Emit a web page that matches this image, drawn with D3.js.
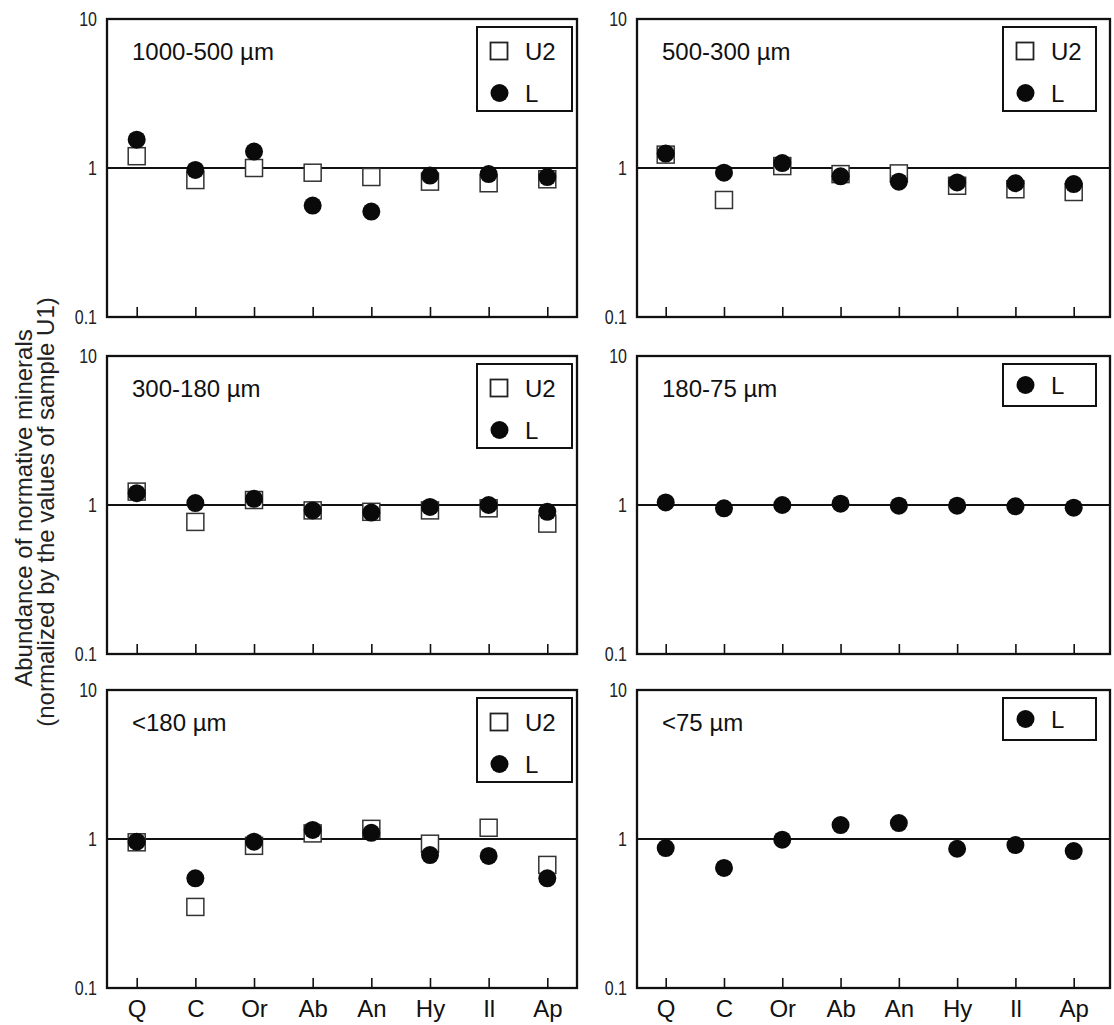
<!DOCTYPE html>
<html>
<head>
<meta charset="utf-8">
<script src="https://cdn.jsdelivr.net/npm/d3@7"></script>
<style>
  html, body { margin: 0; padding: 0; background: #fff; }
  svg { display: block; font-family: "Liberation Sans", Arial, Helvetica, sans-serif; }
</style>
</head>
<body>
<svg id="chart" width="1114" height="1025"></svg>
<script>
// Normative minerals on the x axis
const minerals = ["Q", "C", "Or", "Ab", "An", "Hy", "Il", "Ap"];

// Grain-size fractions, one panel each
const sizeFractions = ["1000-500 µm", "500-300 µm", "300-180 µm", "180-75 µm", "<180 µm", "<75 µm"];

// Abundances normalized by sample U1 (U2 = open squares, L = filled circles)
const u2_1000_500 = [1.20, 0.83, 1.00, 0.93, 0.87, 0.81, 0.79, 0.84];
const l_1000_500  = [1.55, 0.97, 1.29, 0.56, 0.51, 0.89, 0.91, 0.87];
const u2_500_300  = [1.23, 0.61, 1.03, 0.91, 0.92, 0.76, 0.72, 0.69];
const l_500_300   = [1.25, 0.93, 1.08, 0.88, 0.81, 0.80, 0.79, 0.78];
const u2_300_180  = [1.23, 0.77, 1.08, 0.92, 0.90, 0.92, 0.95, 0.75];
const l_300_180   = [1.20, 1.03, 1.10, 0.92, 0.89, 0.97, 1.00, 0.90];
const l_180_75    = [1.04, 0.95, 1.00, 1.02, 0.99, 0.99, 0.98, 0.96];
const u2_lt180    = [0.95, 0.35, 0.90, 1.09, 1.17, 0.93, 1.19, 0.67];
const l_lt180     = [0.96, 0.545, 0.96, 1.15, 1.10, 0.78, 0.77, 0.545];
const l_lt75      = [0.87, 0.64, 0.99, 1.24, 1.28, 0.86, 0.91, 0.83];

// Log axis ticks
const yTickValues = [0.1, 1, 10];
const yTickLabels = ["0.1", "1", "10"];

const seriesU2 = [u2_1000_500, u2_500_300, u2_300_180, null, u2_lt180, null];
const seriesL  = [l_1000_500, l_500_300, l_300_180, l_180_75, l_lt180, l_lt75];

// Layout
const colX = [107, 637];
const colW = [470, 473];
const colTickRange = [[29.7, 440.3], [28.7, 436.7]];
const rowY = [19, 356, 690];
const panelH = 298;

const svg = d3.select("#chart");
const ink = "#111";

const y = d3.scaleLog().domain([0.1, 10]).range([panelH, 0]);

sizeFractions.forEach((title, i) => {
  const col = i % 2, row = Math.floor(i / 2);
  const w = colW[col];
  const g = svg.append("g").attr("transform", `translate(${colX[col]},${rowY[row]})`);
  const x = d3.scalePoint().domain(minerals).range(colTickRange[col]);

  // reference line at 1
  g.append("line")
    .attr("x1", 0).attr("x2", w)
    .attr("y1", y(1)).attr("y2", y(1))
    .attr("stroke", ink).attr("stroke-width", 2);

  // bottom axis with inward ticks
  const xAxis = d3.axisBottom(x).tickSizeInner(-10).tickSizeOuter(0).tickPadding(12);
  if (row < 2) xAxis.tickFormat(() => "");
  const xa = g.append("g").attr("transform", `translate(0,${panelH})`).call(xAxis);
  xa.select(".domain").remove();
  xa.selectAll(".tick line").attr("stroke", ink).attr("stroke-width", 1.6);
  xa.selectAll(".tick text").attr("fill", ink).attr("font-size", 24)
    .attr("font-family", "Liberation Sans, Arial, sans-serif");

  // left axis labels only
  const yAxis = d3.axisLeft(y).tickValues(yTickValues)
    .tickFormat((d, k) => yTickLabels[k]).tickSize(0).tickPadding(12.5);
  const ya = g.append("g").call(yAxis);
  ya.select(".domain").remove();
  ya.selectAll(".tick text").attr("fill", "#222").attr("font-size", 20)
    .attr("font-family", "Liberation Sans, Arial, sans-serif")
    .attr("transform", "scale(0.8,1)");

  // U2 squares
  const s = 17;
  if (seriesU2[i]) {
    g.append("g").selectAll("rect")
      .data(seriesU2[i])
      .join("rect")
      .attr("x", (d, k) => x(minerals[k]) - s / 2)
      .attr("y", d => y(d) - s / 2)
      .attr("width", s).attr("height", s)
      .attr("fill", "#fff").attr("stroke", "#333").attr("stroke-width", 1.5);
  }

  // L circles
  g.append("g").selectAll("circle")
    .data(seriesL[i])
    .join("circle")
    .attr("cx", (d, k) => x(minerals[k]))
    .attr("cy", d => y(d))
    .attr("r", 9)
    .attr("fill", "#0a0a0a");

  // frame
  g.append("rect")
    .attr("x", 0).attr("y", 0).attr("width", w).attr("height", panelH)
    .attr("fill", "none").attr("stroke", ink).attr("stroke-width", 2.3);

  // panel title
  g.append("text")
    .attr("x", 25).attr("y", 41)
    .attr("font-size", 24).attr("fill", ink)
    .text(title);

  // legend
  const hasU2 = !!seriesU2[i];
  const lx = col === 0 ? 370 : 366;
  const ly = 8;
  const lw = col === 0 ? 95 : 93;
  const lh = hasU2 ? 84 : 42;
  const lg = g.append("g").attr("transform", `translate(${lx},${ly})`);
  lg.append("rect").attr("width", lw).attr("height", lh)
    .attr("fill", "#fff").attr("stroke", ink).attr("stroke-width", 2);
  const entries = hasU2 ? [["U2", "square"], ["L", "circle"]] : [["L", "circle"]];
  entries.forEach(([label, shape], k) => {
    const cy = hasU2 ? (k === 0 ? 24 : 66) : 21;
    if (shape === "square") {
      lg.append("rect").attr("x", 22 - s / 2).attr("y", cy - s / 2)
        .attr("width", s).attr("height", s)
        .attr("fill", "#fff").attr("stroke", "#222").attr("stroke-width", 1.8);
    } else {
      lg.append("circle").attr("cx", 22.5).attr("cy", cy).attr("r", 9).attr("fill", "#0a0a0a");
    }
    lg.append("text").attr("x", 48).attr("y", cy + 8.5)
      .attr("font-size", 24).attr("fill", ink).text(label);
  });
});

// shared y-axis title
const yTitle = svg.append("g").attr("fill", "#222").attr("font-size", 24).attr("text-anchor", "middle");
yTitle.append("text").attr("transform", "translate(32,508) rotate(-90)")
  .text("Abundance of normative minerals");
yTitle.append("text").attr("transform", "translate(54,512) rotate(-90)")
  .text("(normalized by the values of sample U1)");
</script>
</body>
</html>
